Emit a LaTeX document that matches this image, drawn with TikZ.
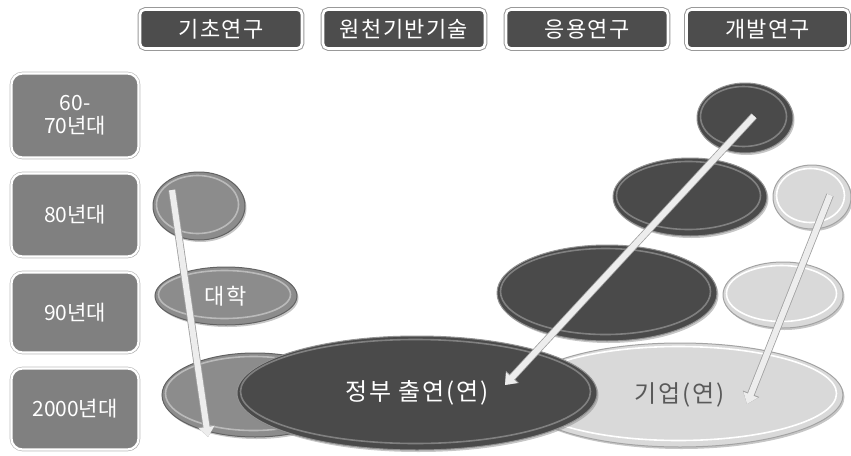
\documentclass[tikz,border=0pt]{standalone}
\usepackage{fontspec}
\setmainfont{Noto Sans CJK KR}
\usetikzlibrary{shadows,arrows.meta,shapes.geometric,calc}
\definecolor{hdrgray}{HTML}{4D4D4D}
\definecolor{erafill}{HTML}{808080}
\definecolor{darkfill}{HTML}{4A4A4A}
\definecolor{midfill}{HTML}{8C8C8C}
\definecolor{lightfill}{HTML}{D9D9D9}
\definecolor{arrowfill}{HTML}{EDEDED}
\definecolor{arrowedge}{HTML}{A0A0A0}
\begin{document}
\begin{tikzpicture}[x=1pt,y=-1pt,
  hdr/.style={draw=white, line width=2.6pt, fill=hdrgray, rounded corners=5pt,
    text=white, font=\fontsize{22}{24}\selectfont\addfontfeature{LetterSpace=6}, minimum width=162pt, minimum height=39pt,
    inner sep=0pt, preaction={draw=black!40, line width=4.6pt},
    drop shadow={shadow xshift=1pt, shadow yshift=-1pt, fill=black!45, opacity=0.5}},
  era/.style={draw=white, line width=2.2pt, fill=erafill, rounded corners=11pt,
    text=white, font=\fontsize{21}{23}\selectfont, minimum width=127pt, inner sep=0pt, align=center,
    preaction={draw=black!25, line width=3.6pt},
    drop shadow={shadow xshift=1.2pt, shadow yshift=-1.2pt, fill=black!40, opacity=0.5}},
  bev/.style n args={3}{ellipse, inner sep=0pt, fill=#1, draw=#2, line width=1pt,
    drop shadow={shadow xshift=1.5pt, shadow yshift=-2pt, fill=black!50, opacity=0.45},
    path picture={
      \path let \p1=(path picture bounding box.north east), \p2=(path picture bounding box.center) in
        [draw=#3, line width=1.6pt]
        ($(\p2)+(-1.5pt,1.5pt)$) ellipse [x radius={\x1-\x2-5pt}, y radius={\y1-\y2-5pt}];
    }},
  mid/.style={bev={midfill}{midfill!70!black}{midfill!60!white}},
  dark/.style={bev={darkfill}{darkfill!60!white}{darkfill!70!white}},
  light/.style={bev={lightfill}{lightfill!75!black}{white}},
  flow/.style={draw=arrowfill, line width=6pt, -{Triangle[length=10pt,width=15pt]},
    preaction={draw=arrowedge, line width=7.6pt, -{Triangle[length=11pt,width=17pt]}}},
  bigtext/.style={font=\fontsize{24}{28}\selectfont\addfontfeature{LetterSpace=8}}
]
\useasboundingbox (0,0) rectangle (851,455);

% headers
\node[hdr] (h1) at (221,29) {기초연구};
\node[hdr] (h2) at (404,29) {원천기반기술};
\node[hdr] (h3) at (587,29) {응용연구};
\node[hdr] (h4) at (767.5,29) {개발연구};

% era boxes
\node[era, minimum height=84pt] (r1) at (75,115.5) {60-\\70년대};
\node[era, minimum height=83pt] (r2) at (75,215) {80년대};
\node[era, minimum height=80pt] (r3) at (75,312.5) {90년대};
\node[era, minimum height=81pt] (r4) at (75,409) {2000년대};

% ellipses
\node[mid, minimum width=92pt, minimum height=68pt] (uA) at (199,206) {};
\node[mid, minimum width=142pt, minimum height=58pt, text=white, font=\fontsize{22}{24}\selectfont\addfontfeature{LetterSpace=8}] (uB) at (226,296) {대학};
\node[mid, minimum width=186pt, minimum height=84pt] (uC) at (255,395) {};
\node[light, minimum width=326pt, minimum height=104pt, text=black!65, bigtext] (cD) at (680,395) {기업(연)};
\node[dark, minimum width=360pt, minimum height=114pt, text=white, bigtext] (gD) at (417,393) {정부 출연(연)};
\node[dark, minimum width=96pt, minimum height=70pt] (gA) at (745,118) {};
\node[dark, minimum width=154pt, minimum height=78pt] (gB) at (690,197) {};
\node[light, minimum width=78pt, minimum height=64pt] (cB) at (812,197) {};
\node[dark, minimum width=220pt, minimum height=96pt] (gC) at (607,293) {};
\node[light, minimum width=120pt, minimum height=66pt] (cC) at (783,295) {};

% arrow ends
\coordinate (a1s) at (172,190);
\coordinate (a1e) at (208,437);
\coordinate (a2s) at (754,116);
\coordinate (a2e) at (505,385);
\coordinate (a3s) at (830,195);
\coordinate (a3e) at (747,404);

\draw[flow] (a1s) -- (a1e);
\draw[flow] (a2s) -- (a2e);
\draw[flow] (a3s) -- (a3e);
\end{tikzpicture}
\end{document}
